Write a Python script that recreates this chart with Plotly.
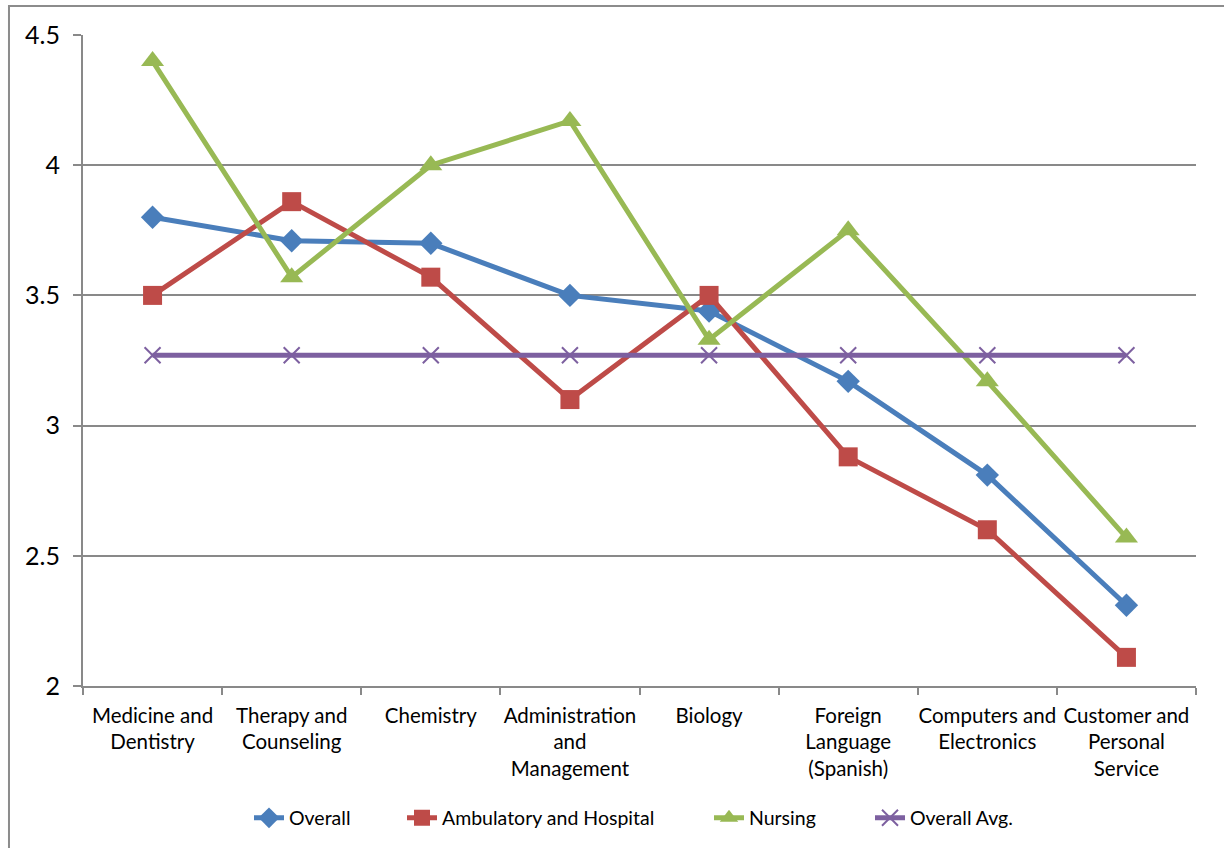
import plotly.graph_objects as go

categories = [
    "Medicine and<br>Dentistry",
    "Therapy and<br>Counseling",
    "Chemistry",
    "Administration<br>and<br>Management",
    "Biology",
    "Foreign<br>Language<br>(Spanish)",
    "Computers and<br>Electronics",
    "Customer and<br>Personal<br>Service",
]

overall = [3.80, 3.71, 3.70, 3.50, 3.44, 3.17, 2.81, 2.31]
ambulatory = [3.50, 3.86, 3.57, 3.10, 3.50, 2.88, 2.60, 2.11]
nursing = [4.40, 3.57, 4.00, 4.17, 3.33, 3.75, 3.17, 2.57]
overall_avg = [3.27] * 8

y_ticks = [2, 2.5, 3, 3.5, 4, 4.5]
y_tick_labels = ["2", "2.5", "3", "3.5", "4", "4.5"]

FONT = "Lato, Calibri, Carlito, sans-serif"
GRID = "#898989"

# plot area in pixels
L, R, T, B = 83, 28, 35, 162
PW = 1224 - L - R

series = [
    ("Overall", overall, "#4A7EBB", "diamond", 18, 0),
    ("Ambulatory and Hospital", ambulatory, "#BE4B48", "square", 19, 0),
    ("Nursing", nursing, "#98B954", "triangle-up", 20, 0),
    ("Overall Avg.", overall_avg, "#7D60A0", "x-thin", 16, 2),
]
# left pixel edge of each legend entry
legend_left_px = [249, 402, 709, 870]

fig = go.Figure()
legend_layouts = {}
for i, (name, vals, color, symbol, size, mlw) in enumerate(series):
    marker = dict(symbol=symbol, size=size, color=color)
    if symbol == "x-thin":
        marker["line"] = dict(color=color, width=mlw)
    lg = "legend" if i == 0 else f"legend{i + 1}"
    fig.add_trace(go.Scatter(
        x=categories, y=vals, name=name, mode="lines+markers",
        line=dict(color=color, width=5),
        marker=marker, legend=lg,
    ))
    legend_layouts[lg] = dict(
        orientation="h", x=(legend_left_px[i] - L) / PW, xanchor="left",
        y=-0.203, yanchor="middle", bgcolor="rgba(0,0,0,0)",
        font=dict(family=FONT, size=19.5),
    )

# outer chart border
fig.add_shape(
    type="rect", xref="paper", yref="paper",
    x0=-0.0665, x1=1.1, y0=-0.4, y1=1.0445,
    line=dict(color="#8c8c8c", width=2), fillcolor="rgba(0,0,0,0)",
    layer="below",
)

fig.update_layout(
    width=1224, height=848,
    margin=dict(l=L, r=R, t=T, b=B, autoexpand=False),
    paper_bgcolor="white", plot_bgcolor="white",
    font=dict(family=FONT, size=20, color="#000000"),
    showlegend=True,
    xaxis=dict(
        type="category", range=[-0.5, 7.5], automargin=False, tickangle=0,
        showgrid=False, showline=True, linecolor=GRID, linewidth=2,
        ticks="outside", tickson="boundaries", ticklen=7, tickcolor=GRID, tickwidth=2,
        tickfont=dict(family=FONT, size=20.5), zeroline=False,
        ticklabelstandoff=10,
    ),
    yaxis=dict(
        range=[2, 4.5], tickvals=y_ticks, ticktext=y_tick_labels, automargin=False,
        showgrid=True, gridcolor=GRID, gridwidth=1.5,
        showline=True, linecolor=GRID, linewidth=2,
        ticks="outside", ticklen=8, tickcolor=GRID, tickwidth=2,
        tickfont=dict(family=FONT, size=25), zeroline=False,
        ticklabelstandoff=8,
    ),
    **legend_layouts,
)

fig.write_html("out.html")
